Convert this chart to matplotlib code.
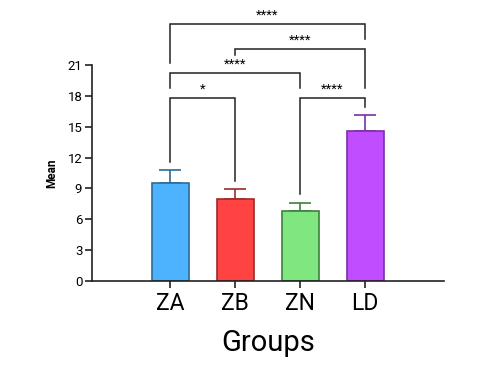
import matplotlib
matplotlib.use("Agg")
import matplotlib.pyplot as plt

plt.rcParams['font.family'] = ['Roboto', 'DejaVu Sans']

# data
groups = ['ZA', 'ZB', 'ZN', 'LD']
means = [9.55, 7.97, 6.77, 14.55]
sems = [1.25, 0.97, 0.83, 1.55]

fills = ['#4DB3FF', '#FF4242', '#80E680', '#C04DFF']
edges = ['#2E6A96', '#9E2A2A', '#3F7F3F', '#7A2FA6']

# significance brackets: (left group, right group, label)
comparisons = [(0, 1, '*'), (2, 3, '****'), (0, 2, '****'),
               (1, 3, '****'), (0, 3, '****')]
bracket_top = [17.78, 17.78, 20.24, 22.55, 24.95]
leg_left = [11.59, 8.45, 18.78, 21.93, 21.16]
leg_right = [9.72, 16.94, 18.78, 18.78, 23.52]

fig = plt.figure(figsize=(4.95, 3.82), dpi=100)
ax = fig.add_axes([0.186, 0.2644, 0.711, 0.5654])

x = list(range(len(groups)))
ax.bar(x, means, width=0.57, color=fills, edgecolor=edges, linewidth=1.2, zorder=2)
for xi, m, s, c in zip(x, means, sems, edges):
    ax.errorbar(xi, m, yerr=[[0], [s]], fmt='none', ecolor=c,
                elinewidth=1.2, capsize=8, capthick=1.2, zorder=1)

# brackets
for (a, b, lab), top, l1, l2 in zip(comparisons, bracket_top, leg_left, leg_right):
    ax.plot([a, a, b, b], [l1, top, top, l2], color='#222222', lw=1.1,
            clip_on=False, solid_joinstyle='miter')
    ax.text((a + b) / 2, top + 0.25, lab, ha='center', va='bottom',
            fontsize=9.5, clip_on=False)

ax.set_xlim(-1.2, 4.215)
ax.set_ylim(0, 21)
ax.set_yticks(range(0, 22, 3))
ax.set_xticks(x)
ax.set_xticklabels(groups, fontsize=16.5)
ax.tick_params(axis='y', labelsize=9.5, length=5, width=1.2, color='#222222', pad=2)
ax.tick_params(axis='x', length=5, width=1.2, color='#222222', pad=3)

for side in ['top', 'right']:
    ax.spines[side].set_visible(False)
for side in ['left', 'bottom']:
    ax.spines[side].set_linewidth(1.2)
    ax.spines[side].set_color('#222222')

ax.set_ylabel('Mean', fontsize=8.5, fontweight='bold', labelpad=7)
ax.set_xlabel('Groups', fontsize=21, labelpad=10)

fig.savefig('out.png', dpi=100)
